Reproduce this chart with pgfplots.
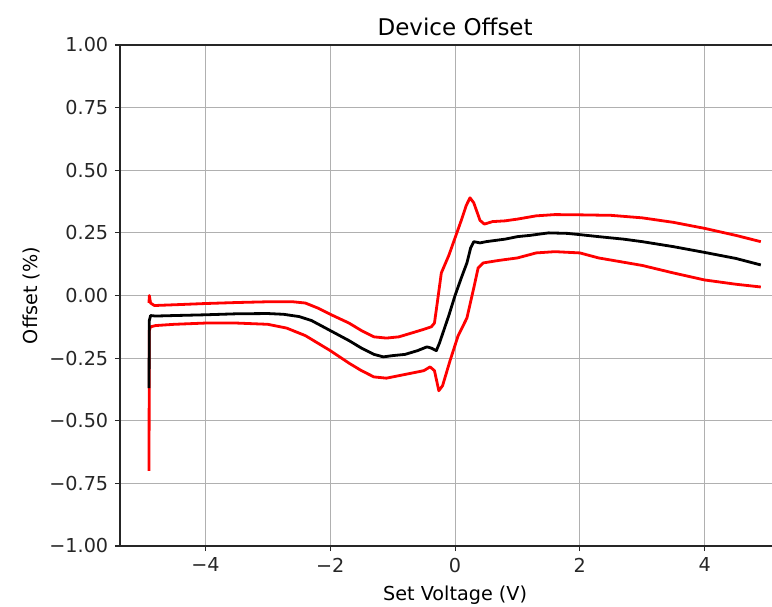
\documentclass[border=0pt]{standalone}
\usepackage{fontspec}
\setmainfont{DejaVu Sans}
\usepackage{pgfplots}
\usepackage{pgfplotstable}
\pgfplotsset{compat=1.18}
\definecolor{gridgray}{HTML}{B0B0B0}
\pgfplotstableread{
x y
-4.905 -0.37
-4.90 -0.10
-4.88 -0.080
-4.80 -0.082
-4.50 -0.080
-4.00 -0.077
-3.50 -0.073
-3.00 -0.072
-2.75 -0.075
-2.50 -0.084
-2.30 -0.100
-2.00 -0.140
-1.70 -0.180
-1.50 -0.210
-1.30 -0.235
-1.15 -0.245
-1.00 -0.240
-0.80 -0.235
-0.60 -0.220
-0.45 -0.205
-0.38 -0.210
-0.30 -0.220
-0.25 -0.190
-0.10 -0.080
0.00 0.000
0.10 0.070
0.19 0.130
0.25 0.190
0.30 0.215
0.40 0.210
0.50 0.215
0.80 0.225
1.00 0.235
1.20 0.240
1.50 0.250
1.80 0.248
2.00 0.243
2.30 0.235
2.70 0.225
3.00 0.215
3.50 0.195
4.00 0.172
4.50 0.148
4.90 0.122
}\blackdata
\pgfplotstableread{
x y
-4.905 -0.03
-4.90 0.000
-4.88 -0.030
-4.82 -0.040
-4.50 -0.037
-4.00 -0.032
-3.50 -0.028
-3.00 -0.025
-2.60 -0.025
-2.40 -0.030
-2.20 -0.050
-2.00 -0.075
-1.70 -0.110
-1.50 -0.140
-1.30 -0.165
-1.10 -0.170
-0.90 -0.165
-0.70 -0.150
-0.50 -0.135
-0.38 -0.125
-0.33 -0.110
-0.28 -0.020
-0.22 0.090
-0.10 0.160
0.00 0.230
0.10 0.300
0.18 0.360
0.24 0.390
0.30 0.370
0.40 0.300
0.47 0.285
0.60 0.295
0.80 0.298
1.00 0.305
1.30 0.318
1.60 0.323
2.00 0.322
2.50 0.320
3.00 0.310
3.50 0.292
4.00 0.268
4.50 0.240
4.90 0.215
}\upperdata
\pgfplotstableread{
x y
-4.905 -0.70
-4.90 -0.140
-4.88 -0.125
-4.80 -0.120
-4.50 -0.115
-4.00 -0.110
-3.50 -0.110
-3.00 -0.115
-2.70 -0.130
-2.40 -0.160
-2.00 -0.220
-1.70 -0.270
-1.50 -0.300
-1.30 -0.325
-1.10 -0.330
-0.90 -0.320
-0.70 -0.310
-0.50 -0.300
-0.40 -0.285
-0.33 -0.300
-0.26 -0.380
-0.20 -0.360
-0.08 -0.260
0.05 -0.160
0.19 -0.090
0.30 0.030
0.37 0.110
0.45 0.130
0.70 0.140
1.00 0.150
1.30 0.170
1.60 0.175
2.00 0.170
2.30 0.150
3.00 0.120
3.50 0.090
4.00 0.062
4.50 0.045
4.90 0.034
}\lowerdata
\begin{document}
\fontsize{9.6}{11.5}\selectfont
\begin{tikzpicture}
\begin{axis}[
  scale only axis,
  width=326pt, height=250.5pt,
  xmin=-5.37, xmax=5.08, ymin=-1, ymax=1,
  axis x line*=box, axis y line*=left,
  axis line style={-, black!85, line width=0.55pt},
  tick pos=left, tick align=outside,
  major tick length=2.5pt,
  tick style={black!85, line width=0.55pt},
  xtick={-4,-2,0,2,4},
  xticklabels={−4,−2,0,2,4},
  ytick={-1,-0.75,-0.5,-0.25,0,0.25,0.5,0.75,1},
  yticklabels={−1.00,−0.75,−0.50,−0.25,0.00,0.25,0.50,0.75,1.00},
  grid=major,
  major grid style={gridgray, line width=0.55pt},
  xlabel={Set Voltage (V)},
  ylabel={Offset (\%)},
  title={Device Offset},
  title style={at={(axis description cs:0.514,1)}, anchor=south, yshift=-5pt, font=\fontsize{11.5}{13}\selectfont},
  xlabel style={at={(axis description cs:0.514,0)}, anchor=north, yshift=-16.5pt},
  ylabel style={yshift=-2pt},
  every tick label/.append style={text=black!85},
]
\addplot[red, line width=1.4pt, line join=round] table[x=x,y=y] {\upperdata};
\addplot[red, line width=1.4pt, line join=round] table[x=x,y=y] {\lowerdata};
\addplot[black, line width=1.4pt, line join=round] table[x=x,y=y] {\blackdata};
\end{axis}
\pgfresetboundingbox
\path ([shift={(-60pt,-30pt)}]current axis.south west) rectangle ([shift={(0pt,22.5pt)}]current axis.north east);
\end{tikzpicture}
\end{document}
